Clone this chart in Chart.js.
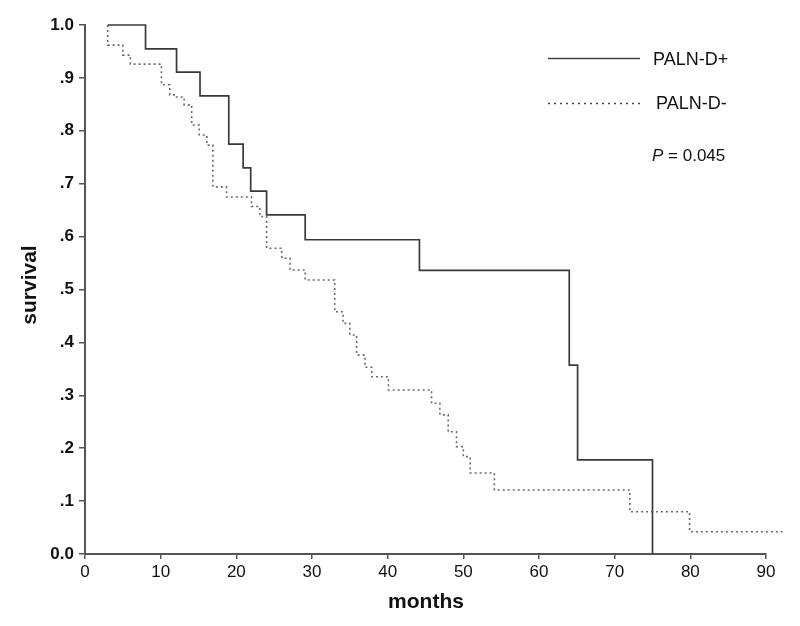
<!DOCTYPE html>
<html>
<head>
<meta charset="utf-8">
<script src="https://cdn.jsdelivr.net/npm/chart.js@4.4.1/dist/chart.umd.min.js"></script>
<style>
html,body{margin:0;padding:0;background:#fff;}
#wrap{position:relative;width:800px;height:626px;}
</style>
</head>
<body>
<div id="wrap"><canvas id="c" width="800" height="626"></canvas></div>
<script>
// PALN-D+ (solid)
const posMonths = [3, 8, 12.1, 15.2, 19, 20.9, 21.9, 24, 29.1, 44.2, 64, 65.1, 75];
const posSurv   = [1.0, 0.955, 0.911, 0.866, 0.775, 0.73, 0.686, 0.641, 0.594, 0.536, 0.357, 0.178, 0];
// PALN-D- (dotted)
const negMonths = [3, 3, 5, 6, 10.1, 11.2, 12.1, 13.1, 14.1, 15.1, 16.1, 16.9, 18.7, 22.0, 23.1, 24.0, 26.0, 27.1, 29.1,
                   33.0, 34.1, 35.0, 35.9, 37.0, 37.9, 40.1, 45.8, 46.9, 48.0, 49.1, 50.0, 50.9, 54.1, 72.0, 79.9, 92.2];
const negSurv   = [1.0, 0.962, 0.943, 0.926, 0.887, 0.868, 0.864, 0.849, 0.811, 0.792, 0.773, 0.694, 0.675, 0.657, 0.638, 0.578, 0.559, 0.537, 0.518,
                   0.458, 0.436, 0.414, 0.376, 0.353, 0.335, 0.310, 0.285, 0.263, 0.231, 0.203, 0.184, 0.153, 0.121, 0.080, 0.042, 0.042];
const xTicks = [0, 10, 20, 30, 40, 50, 60, 70, 80, 90];
const yTickLabels = {"1": "1.0", "0": "0.0"};
const seriesNames = ["PALN-D+", "PALN-D-"];
const pText = "= 0.045";

const toPts = (xs, ys) => xs.map((x, i) => ({x: x, y: ys[i]}));

const FONT = "'Liberation Sans', Arial, sans-serif";

const overlay = {
  id: 'overlay',
  afterDraw(chart) {
    const ctx = chart.ctx;
    ctx.save();
    // axis titles
    ctx.fillStyle = '#111';
    ctx.font = 'bold 21px ' + FONT;
    ctx.textAlign = 'center';
    ctx.textBaseline = 'middle';
    ctx.fillText('months', 426, 602);
    ctx.save();
    ctx.translate(30, 285);
    ctx.rotate(-Math.PI / 2);
    ctx.fillText('survival', 0, 0);
    ctx.restore();
    // legend
    ctx.lineWidth = 1.5;
    ctx.strokeStyle = '#444';
    ctx.setLineDash([]);
    ctx.beginPath(); ctx.moveTo(548, 58.5); ctx.lineTo(640, 58.5); ctx.stroke();
    ctx.strokeStyle = '#444';
    ctx.setLineDash([2, 4]);
    ctx.beginPath(); ctx.moveTo(548, 103.5); ctx.lineTo(640, 103.5); ctx.stroke();
    ctx.setLineDash([]);
    ctx.font = '18px ' + FONT;
    ctx.textAlign = 'left';
    ctx.fillStyle = '#111';
    ctx.fillText(seriesNames[0], 653, 60);
    ctx.fillText(seriesNames[1], 656, 104);
    ctx.font = 'italic 17px ' + FONT;
    ctx.fillText('P', 652, 156);
    const pw = ctx.measureText('P ').width;
    ctx.font = '17px ' + FONT;
    ctx.fillText(pText, 652 + pw, 156);
    ctx.restore();
  }
};

new Chart(document.getElementById('c'), {
  type: 'line',
  data: {
    datasets: [
      {
        label: seriesNames[0],
        data: toPts(posMonths, posSurv),
        stepped: true,
        borderColor: '#3a3a3a',
        borderWidth: 1.7,
        pointRadius: 0,
        fill: false,
        clip: false
      },
      {
        label: seriesNames[1],
        data: toPts(negMonths, negSurv),
        stepped: true,
        borderColor: '#6a6a6a',
        borderWidth: 1.6,
        borderDash: [2, 3],
        pointRadius: 0,
        fill: false,
        clip: false
      }
    ]
  },
  options: {
    responsive: false,
    animation: false,
    devicePixelRatio: 1,
    layout: {padding: {left: 0, top: 25, right: 34, bottom: 0}},
    plugins: {legend: {display: false}, tooltip: {enabled: false}},
    scales: {
      x: {
        type: 'linear',
        min: 0, max: 90,
        afterFit(scale) { scale.height = 72; },
        afterBuildTicks(scale) { scale.ticks = xTicks.map(v => ({value: v})); },
        border: {display: true, color: '#555', width: 2},
        grid: {display: true, drawOnChartArea: false, drawTicks: true, tickLength: 5, color: '#555', lineWidth: 1.5},
        ticks: {padding: 3, color: '#111', font: {family: FONT, size: 17}, maxRotation: 0}
      },
      y: {
        min: 0, max: 1,
        afterFit(scale) { scale.width = 85; },
        border: {display: true, color: '#555', width: 2},
        grid: {display: true, drawOnChartArea: false, drawTicks: true, tickLength: 6, color: '#555', lineWidth: 1.5},
        ticks: {
          stepSize: 0.1, padding: 5, color: '#111', font: {family: FONT, size: 17, weight: 'bold'},
          callback(v) {
            const r = Math.round(v * 10);
            if (yTickLabels[String(r / 10)] !== undefined) return yTickLabels[String(r / 10)];
            return '.' + r;
          }
        }
      }
    }
  },
  plugins: [overlay]
});
</script>
</body>
</html>
